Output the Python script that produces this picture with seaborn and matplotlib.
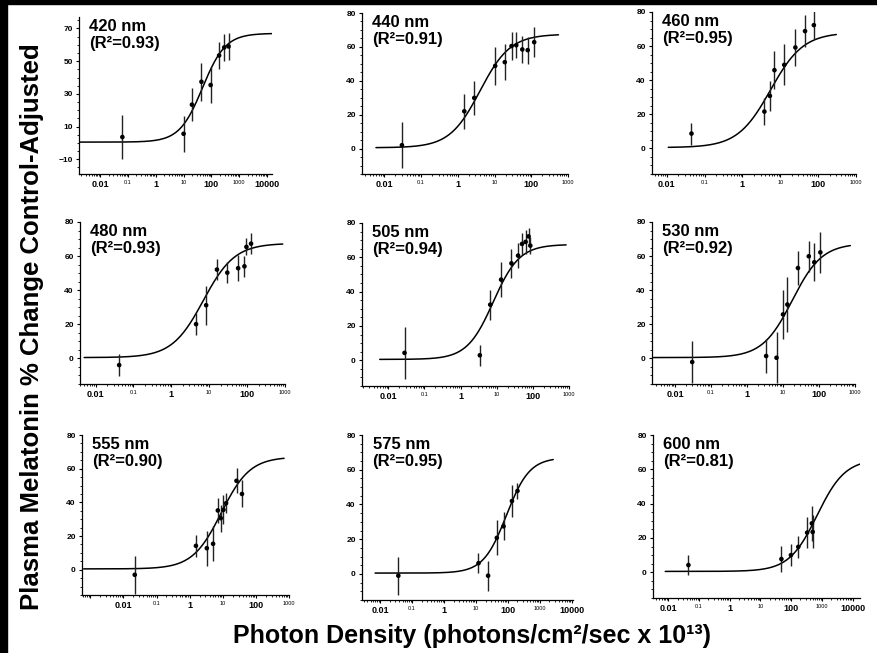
import numpy as np
import pandas as pd
import seaborn as sns
import matplotlib.pyplot as plt
from matplotlib.patches import Rectangle
from matplotlib.ticker import FixedLocator, MultipleLocator, NullFormatter

# panel labels
wavelengths = ["420 nm", "440 nm", "460 nm", "480 nm", "505 nm", "530 nm", "555 nm", "575 nm", "600 nm"]
r_squared = ["0.93", "0.91", "0.95", "0.93", "0.94", "0.92", "0.90", "0.95", "0.81"]

# photon density (x 10^13), % change, error bar half-length
dens_420 = [0.063, 10, 20, 44, 94, 190, 290, 415]
resp_420 = [3.6, 5.6, 23.4, 37.4, 35.4, 53.5, 58.4, 59.0]
err_420 = [13.3, 11, 10, 11.5, 11, 8, 8, 8]

dens_440 = [0.03, 1.5, 2.8, 10.4, 19, 29, 39, 57, 80, 120]
resp_440 = [2.0, 22.0, 29.9, 48.8, 51.0, 60.5, 61.0, 58.5, 58.1, 62.8]
err_440 = [13.5, 10.5, 10, 11, 10.5, 8, 7.5, 8, 8, 9]

dens_460 = [0.045, 3.8, 5.3, 7, 12.7, 25, 45, 77]
resp_460 = [8.7, 21.6, 30.8, 45.9, 49.0, 59.2, 68.8, 72.3]
err_460 = [6.5, 8, 9, 11, 12, 11, 9.5, 8]

dens_480 = [0.042, 4.5, 8.3, 16, 30, 58, 85, 96, 127]
resp_480 = [-3.9, 20.1, 31.2, 52.1, 50.3, 52.9, 54.0, 65.4, 67.3]
err_480 = [6.5, 6.5, 11.5, 6, 6, 7.5, 6, 5, 6]

dens_505 = [0.028, 3.4, 6.6, 13.2, 25.5, 39, 50, 63, 76, 85]
resp_505 = [4.3, 2.9, 32.4, 47.0, 56.5, 61.0, 67.8, 69.0, 72.2, 66.8]
err_505 = [15.3, 6, 8.8, 10, 8.5, 7.5, 6.5, 7, 5, 5]

dens_530 = [0.03, 3.4, 6.6, 10, 13.2, 26, 52, 74, 109]
resp_530 = [-2.1, 1.4, 0.4, 25.8, 31.6, 53.0, 59.9, 56.4, 62.2]
err_530 = [12.6, 9.8, 15, 14.5, 16, 10, 9, 11, 12]

dens_555 = [0.022, 1.55, 3.3, 5.1, 7.1, 8.7, 10.5, 12.6, 26, 38]
resp_555 = [-3.0, 14.2, 12.8, 15.4, 35.2, 30.6, 35.6, 39.5, 52.8, 45.0]
err_555 = [11.4, 6.5, 10.3, 10.4, 7.4, 8, 8.5, 6, 7.5, 8]

dens_575 = [0.037, 12, 24, 45, 73, 134, 200]
resp_575 = [-1.0, 6.2, -1.0, 20.8, 27.4, 42.0, 47.8]
err_575 = [11, 5.8, 8.6, 10, 8, 9, 4.5]

dens_600 = [0.045, 48, 98, 170, 330, 470, 500]
resp_600 = [4.2, 7.7, 10.0, 14.8, 23.1, 28.5, 23.5]
err_600 = [6, 7.7, 6.5, 6.5, 9, 10.3, 9.6]

# sigmoid fit
fit_bottom = [0.5] * 9
fit_top = [67, 67.5, 68, 67.5, 67.5, 67.5, 67, 67, 66]
fit_ec50 = [48, 4.0, 5.5, 7, 8, 18, 9, 90, 700]
fit_hill = [1.05, 1.05, 1.0, 1.05, 1.2, 1.05, 1.0, 1.2, 0.95]
curve_lo = [-2.76, -2.23, -1.96, -2.3, -2.24, -2.6, -3.2, -2.16, -2.1]   # log10 start
curve_hi = [4.18, 2.74, 2.48, 2.94, 2.92, 2.87, 2.85, 3.42, 4.24]        # log10 end

density = [dens_420, dens_440, dens_460, dens_480, dens_505, dens_530, dens_555, dens_575, dens_600]
response = [resp_420, resp_440, resp_460, resp_480, resp_505, resp_530, resp_555, resp_575, resp_600]
errors = [err_420, err_440, err_460, err_480, err_505, err_530, err_555, err_575, err_600]

# axes boxes in pixels: x0, x1, y_top, y_bottom ; and x limits (log10)
W, H = 877, 653
boxes = [(79, 272, 17, 174), (362, 568, 13, 174), (652, 856, 12, 174),
         (80, 285, 222, 384), (362, 569, 223, 386), (652, 855, 222, 384),
         (82, 289, 435, 595), (362, 573, 435, 600), (653, 860, 435, 598)]
xlims = [(-2.76, 4.18), (-2.61, 3.0), (-2.39, 3.0),
         (-2.41, 3.0), (-2.73, 3.0), (-2.64, 3.0),
         (-3.25, 3.0), (-2.57, 4.04), (-2.5, 4.24)]

sns.set_style("ticks")
plt.rcParams["font.family"] = ["Liberation Sans", "DejaVu Sans"]
plt.rcParams["text.color"] = "black"
plt.rcParams["xtick.color"] = "black"
plt.rcParams["ytick.color"] = "black"

fig = plt.figure(figsize=(W / 100, H / 100), dpi=100)
fig.patch.set_facecolor("white")

big_labels = {-2: "0.01", 0: "1", 2: "100", 4: "10000"}
small_labels = {-1: "0.1", 1: "10", 3: "1000"}

for i in range(9):
    x0, x1, yt, yb = boxes[i]
    ax = fig.add_axes([x0 / W, 1 - yb / H, (x1 - x0) / W, (yb - yt) / H])
    ax.set_xscale("log")

    xs = np.logspace(curve_lo[i], curve_hi[i], 400)
    ys = fit_bottom[i] + (fit_top[i] - fit_bottom[i]) / (1 + (fit_ec50[i] / xs) ** fit_hill[i])
    sns.lineplot(x=xs, y=ys, ax=ax, color="black", linewidth=1.1, sort=False)

    df = pd.DataFrame({"dens": density[i], "resp": response[i], "err": errors[i]})
    ax.errorbar(df["dens"], df["resp"], yerr=df["err"], fmt="none",
                ecolor="#222222", elinewidth=1.0, capsize=0)
    sns.scatterplot(data=df, x="dens", y="resp", ax=ax, color="black",
                    s=11, edgecolor="none", zorder=3)

    lo, hi = xlims[i]
    ax.set_xlim(10 ** lo, 10 ** hi)
    if i == 0:
        ax.set_ylim(-19, 77)
        ax.yaxis.set_major_locator(FixedLocator([-10, 10, 30, 50, 70]))
    else:
        ax.set_ylim(-15, 80)
        ax.yaxis.set_major_locator(MultipleLocator(20))
    ax.yaxis.set_minor_locator(MultipleLocator(5))

    decades = [d for d in range(-3, 5) if lo <= d <= hi + 0.01]
    ax.xaxis.set_major_locator(FixedLocator([10.0 ** d for d in decades]))
    minors = [m * 10.0 ** d for d in range(-4, 5) for m in range(2, 10)]
    ax.xaxis.set_minor_locator(FixedLocator(minors))
    ax.xaxis.set_minor_formatter(NullFormatter())
    ax.set_xticklabels([big_labels.get(d, small_labels.get(d, "")) for d in decades])
    for d, lab in zip(decades, ax.get_xticklabels()):
        if d in big_labels:
            lab.set_fontsize(6.5)
            lab.set_fontweight("bold")
        else:
            lab.set_fontsize(4)

    for lab in ax.get_yticklabels():
        lab.set_fontsize(6)
        lab.set_fontweight("bold")

    ax.tick_params(axis="both", which="major", direction="out", length=2.5, width=0.8, pad=2, colors="black")
    ax.tick_params(axis="both", which="minor", direction="out", length=1.3, width=0.6, colors="black")
    sns.despine(ax=ax)
    for s in ("left", "bottom"):
        ax.spines[s].set_linewidth(0.9)
        ax.spines[s].set_color("black")
    ax.set_xlabel("")
    ax.set_ylabel("")

    ax.text(0.05, 0.985, f"{wavelengths[i]}\n(R²={r_squared[i]})", transform=ax.transAxes,
            ha="left", va="top", fontsize=12, fontweight="bold", linespacing=1.15, color="black")

fig.text(0.036, 0.5, "Plasma Melatonin % Change Control-Adjusted", rotation=90,
         ha="center", va="center", fontsize=18.5, fontweight="bold", color="black")
fig.text(0.538, 0.026, "Photon Density (photons/cm²/sec x 10¹³)",
         ha="center", va="center", fontsize=18, fontweight="bold", color="black")

# black scan border on top and left
fig.patches.append(Rectangle((0, 1 - 4 / H), 1, 4 / H, transform=fig.transFigure,
                             color="black", zorder=10))
fig.patches.append(Rectangle((0, 0), 7 / W, 1, transform=fig.transFigure,
                             color="black", zorder=10))

fig.savefig("out.png", dpi=100)
